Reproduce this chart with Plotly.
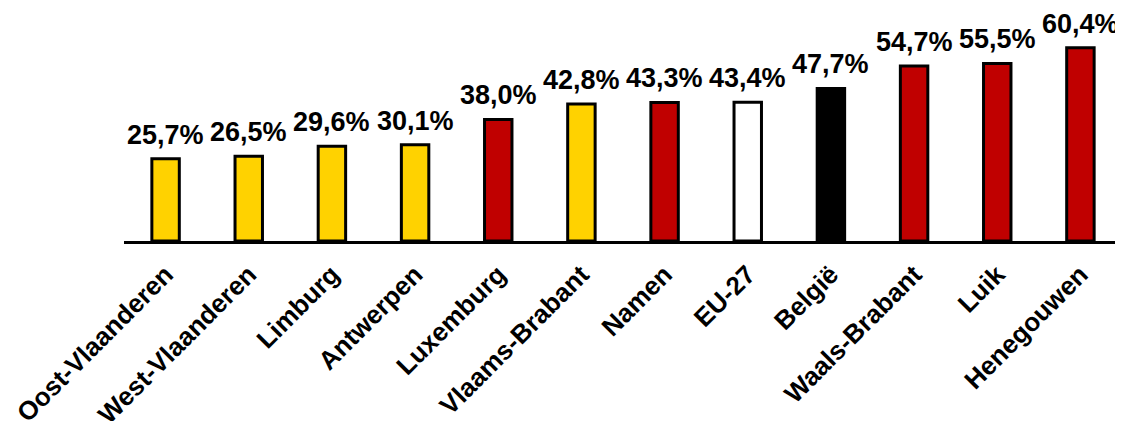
import plotly.graph_objects as go

categories = ["Oost-Vlaanderen", "West-Vlaanderen", "Limburg", "Antwerpen", "Luxemburg",
              "Vlaams-Brabant", "Namen", "EU-27", "België", "Waals-Brabant", "Luik", "Henegouwen"]
values = [25.7, 26.5, 29.6, 30.1, 38.0, 42.8, 43.3, 43.4, 47.7, 54.7, 55.5, 60.4]
bar_colors = ["#FFD200", "#FFD200", "#FFD200", "#FFD200", "#C00000", "#FFD200",
              "#C00000", "#FFFFFF", "#000000", "#C00000", "#C00000", "#C00000"]
labels = [f"{v:.1f}".replace(".", ",") + "%" for v in values]

FONT = "Liberation Sans, Arial, sans-serif"

fig = go.Figure()
fig.add_trace(go.Bar(
    x=categories, y=values,
    marker=dict(color=bar_colors, line=dict(color="black", width=3)),
    width=0.33,
    hoverinfo="skip",
))

for c, v, t in zip(categories, values, labels):
    fig.add_annotation(x=c, y=v, text=t, showarrow=False, yanchor="bottom", yshift=7,
                       font=dict(family=FONT, size=27, color="black", weight="bold"))

# page body has an 8px margin; margins compensate for it
fig.update_layout(
    width=1123, height=421,
    margin=dict(l=116, r=9, t=2, b=188),
    paper_bgcolor="white", plot_bgcolor="white",
    showlegend=False,
    xaxis=dict(
        showline=True, linecolor="black", linewidth=3,
        tickangle=-45, showgrid=False, zeroline=False, automargin=False,
        tickfont=dict(family=FONT, size=26, color="black", weight="bold"),
        ticks="outside", ticklen=5, tickcolor="rgba(0,0,0,0)",
    ),
    yaxis=dict(range=[0, 72.2], visible=False, showgrid=False, zeroline=False,
               automargin=False),
)

fig.write_html("out.html")
